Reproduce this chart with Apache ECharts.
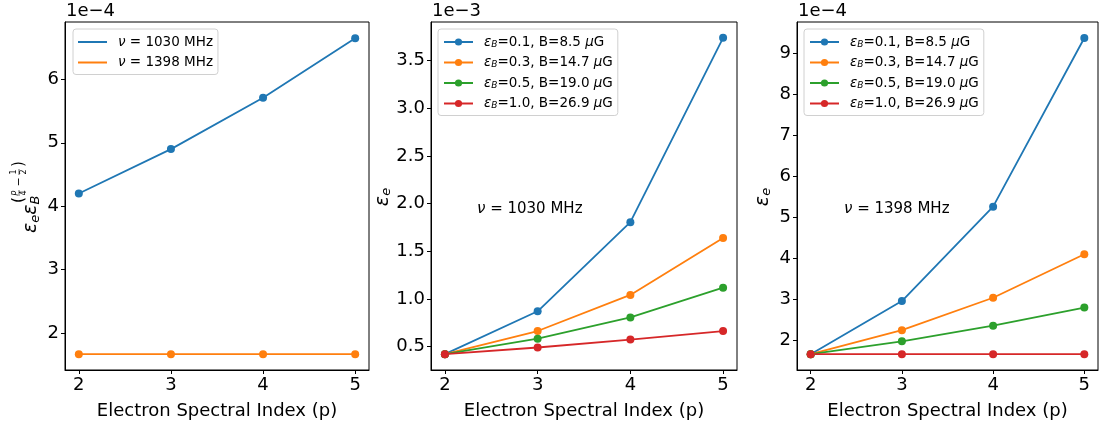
<!DOCTYPE html>
<html><head><meta charset="utf-8">
<script src="https://cdn.jsdelivr.net/npm/echarts@6/dist/echarts.min.js"></script>
<style>html,body{margin:0;padding:0;background:#fff}#c{width:1099px;height:425px}</style>
</head><body><div id="c"></div>
<script>
const pValues = [2, 3, 4, 5];
const xTicks = [2, 3, 4, 5];
// Panel 1 (units of 1e-4)
const p1_1030 = [4.20, 4.90, 5.71, 6.65];
const p1_1398 = [1.665, 1.665, 1.665, 1.665];
const p1Ticks = [2, 3, 4, 5, 6];
// Panel 2, nu = 1030 MHz (units of 1e-3)
const p2_eB01 = [0.42, 0.87, 1.805, 3.74];
const p2_eB03 = [0.42, 0.663, 1.042, 1.640];
const p2_eB05 = [0.42, 0.583, 0.806, 1.118];
const p2_eB10 = [0.42, 0.490, 0.573, 0.663];
const p2Ticks = [0.5, 1.0, 1.5, 2.0, 2.5, 3.0, 3.5];
// Panel 3, nu = 1398 MHz (units of 1e-4)
const p3_eB01 = [1.665, 2.96, 5.26, 9.37];
const p3_eB03 = [1.665, 2.25, 3.04, 4.10];
const p3_eB05 = [1.665, 1.98, 2.36, 2.80];
const p3_eB10 = [1.665, 1.665, 1.665, 1.665];
const p3Ticks = [2, 3, 4, 5, 6, 7, 8, 9];
const legendNames = ['eB01', 'eB03', 'eB05', 'eB10'];
const legendLabels = ['{it|ε}{sub|B}=0.1, B=8.5 {it|μ}G', '{it|ε}{sub|B}=0.3, B=14.7 {it|μ}G', '{it|ε}{sub|B}=0.5, B=19.0 {it|μ}G', '{it|ε}{sub|B}=1.0, B=26.9 {it|μ}G'];
const colors = ['#1f77b4', '#ff7f0e', '#2ca02c', '#d62728'];

const FONT = 'DejaVu Sans';
const FS = 18;
const chart = echarts.init(document.getElementById('c'));
const grids = [
  {left: 65, top: 22, width: 304, height: 349},
  {left: 431, top: 22, width: 306, height: 349},
  {left: 797, top: 22, width: 301, height: 349}
].map(g => Object.assign(g, {show: true, borderColor: '#000', borderWidth: 1, backgroundColor: 'transparent'}));

function xAx(i) {
  return {type: 'value', gridIndex: i, min: 1.85, max: 5.15,
    axisLine: {show: true, onZero: false, lineStyle: {color: '#000', width: 1}},
    axisTick: {show: true, length: 4, lineStyle: {color: '#000'}, customValues: xTicks},
    axisLabel: {color: '#000', fontSize: FS, fontFamily: FONT, margin: 6, customValues: xTicks, formatter: v => String(v)},
    splitLine: {show: false},
    name: 'Electron Spectral Index (p)', nameLocation: 'middle', nameGap: 32,
    nameTextStyle: {color: '#000', fontSize: FS, fontFamily: FONT}};
}
function yAx(i, min, max, ticks, fmt) {
  return {type: 'value', gridIndex: i, min: min, max: max,
    axisLine: {show: true, onZero: false, lineStyle: {color: '#000', width: 1}},
    axisTick: {show: true, length: 4, lineStyle: {color: '#000'}, customValues: ticks},
    axisLabel: {color: '#000', fontSize: FS, fontFamily: FONT, margin: 6, customValues: ticks, formatter: fmt},
    splitLine: {show: false}};
}
function ser(name, data, color, xi) {
  return {type: 'line', name: name, xAxisIndex: xi, yAxisIndex: xi,
    data: pValues.map((p, k) => [p, data[k]]), symbol: 'circle', symbolSize: 8,
    showSymbol: true, color: color, lineStyle: {width: 1.8, color: color},
    itemStyle: {color: color}, animation: false, z: 3};
}
const legendRich = {
  it: {fontStyle: 'italic', fontSize: 13.5, fontFamily: FONT, color: '#000'},
  sub: {fontStyle: 'italic', fontSize: 9, fontFamily: FONT, color: '#000', verticalAlign: 'bottom', padding: [6, 0, 0, 0]}
};
function legendBox(left, names, labels, plainLine) {
  return {orient: 'vertical', left: left, top: 29, padding: [6, 5, 5, 5],
    itemWidth: 29, itemHeight: plainLine ? 2 : 9, itemGap: 6.5,
    borderColor: '#d0d0d0', borderWidth: 1, borderRadius: 3, backgroundColor: 'rgba(255,255,255,0.8)',
    selectedMode: false,
    data: names.map(n => plainLine ? {name: n, icon: 'rect'} : {name: n}),
    formatter: n => labels[names.indexOf(n)],
    textStyle: {fontSize: 13.5, fontFamily: FONT, color: '#000', lineHeight: 14, padding: [0, 0, 0, 6], rich: legendRich}};
}
const p1Names = ['n1030', 'n1398'];
const p1Labels = ['{it|ν} = 1030 MHz', '{it|ν} = 1398 MHz'];
const p2Names = legendNames.map(n => n + '_2');
const p3Names = legendNames.map(n => n + '_3');

const mainRich = {
  m: {fontStyle: 'italic', fontSize: 19, fontFamily: FONT},
  s: {fontStyle: 'italic', fontSize: 13, fontFamily: FONT, padding: [8, 0, 0, 0]}
};
function t(x, y, text, size, opts) {
  return Object.assign({type: 'text', x: x, y: y, style: Object.assign({text: text, fontSize: size, fontFamily: FONT, fill: '#000', align: 'center', verticalAlign: 'middle'}, opts || {})});
}
// rotated y-axis label for panel 1, origin = start of baseline
function yLabel1(ox, oy) {
  return {type: 'group', x: ox, y: oy, rotation: Math.PI / 2, children: [
    t(0, 4, '{m|ε}{s|e}{m|ε}{s|B}', 19, {align: 'left', verticalAlign: 'bottom', rich: mainRich}),
    t(33, -19, '(', 15),
    t(40, -24, 'p', 8, {fontStyle: 'italic'}),
    {type: 'line', shape: {x1: 37, y1: -19, x2: 43, y2: -19}, style: {stroke: '#000', lineWidth: 0.6}},
    t(40, -14.5, '4', 8),
    t(51, -19, '−', 11),
    t(61, -24, '1', 8),
    {type: 'line', shape: {x1: 58, y1: -19, x2: 64, y2: -19}, style: {stroke: '#000', lineWidth: 0.6}},
    t(61, -14.5, '2', 8),
    t(69, -19, ')', 15)
  ]};
}
function yLabelE(ox, oy) {
  return {type: 'group', x: ox, y: oy, rotation: Math.PI / 2, children: [
    t(0, 0, '{m|ε}{s|e}', 19, {align: 'center', verticalAlign: 'middle', rich: mainRich})
  ]};
}
function plainText(x, y, text, size) {
  return {type: 'text', x: x, y: y, style: {text: text, fontSize: size, fontFamily: FONT, fill: '#000', align: 'left', verticalAlign: 'middle',
    rich: {it: {fontStyle: 'italic', fontSize: size, fontFamily: FONT}}}};
}

chart.setOption({
  animation: false,
  grid: grids,
  xAxis: [xAx(0), xAx(1), xAx(2)],
  yAxis: [
    yAx(0, 1.415, 6.905, p1Ticks, v => String(v)),
    yAx(1, 0.254, 3.906, p2Ticks, v => v.toFixed(1)),
    yAx(2, 1.28, 9.76, p3Ticks, v => String(v))
  ],
  legend: [
    legendBox(73, p1Names, p1Labels, true),
    legendBox(438, p2Names, legendLabels, false),
    legendBox(804, p3Names, legendLabels, false)
  ],
  series: [
    ser('n1030', p1_1030, colors[0], 0),
    ser('n1398', p1_1398, colors[1], 0),
    ser(p2Names[0], p2_eB01, colors[0], 1),
    ser(p2Names[1], p2_eB03, colors[1], 1),
    ser(p2Names[2], p2_eB05, colors[2], 1),
    ser(p2Names[3], p2_eB10, colors[3], 1),
    ser(p3Names[0], p3_eB01, colors[0], 2),
    ser(p3Names[1], p3_eB03, colors[1], 2),
    ser(p3Names[2], p3_eB05, colors[2], 2),
    ser(p3Names[3], p3_eB10, colors[3], 2)
  ],
  graphic: [
    plainText(66, 11, '1e−4', FS),
    plainText(432, 11, '1e−3', FS),
    plainText(798, 11, '1e−4', FS),
    plainText(477, 209, '{it|ν} = 1030 MHz', 15),
    plainText(844, 209, '{it|ν} = 1398 MHz', 15),
    yLabel1(38, 233),
    yLabelE(383, 197),
    yLabelE(763, 197)
  ]
});
</script></body></html>
